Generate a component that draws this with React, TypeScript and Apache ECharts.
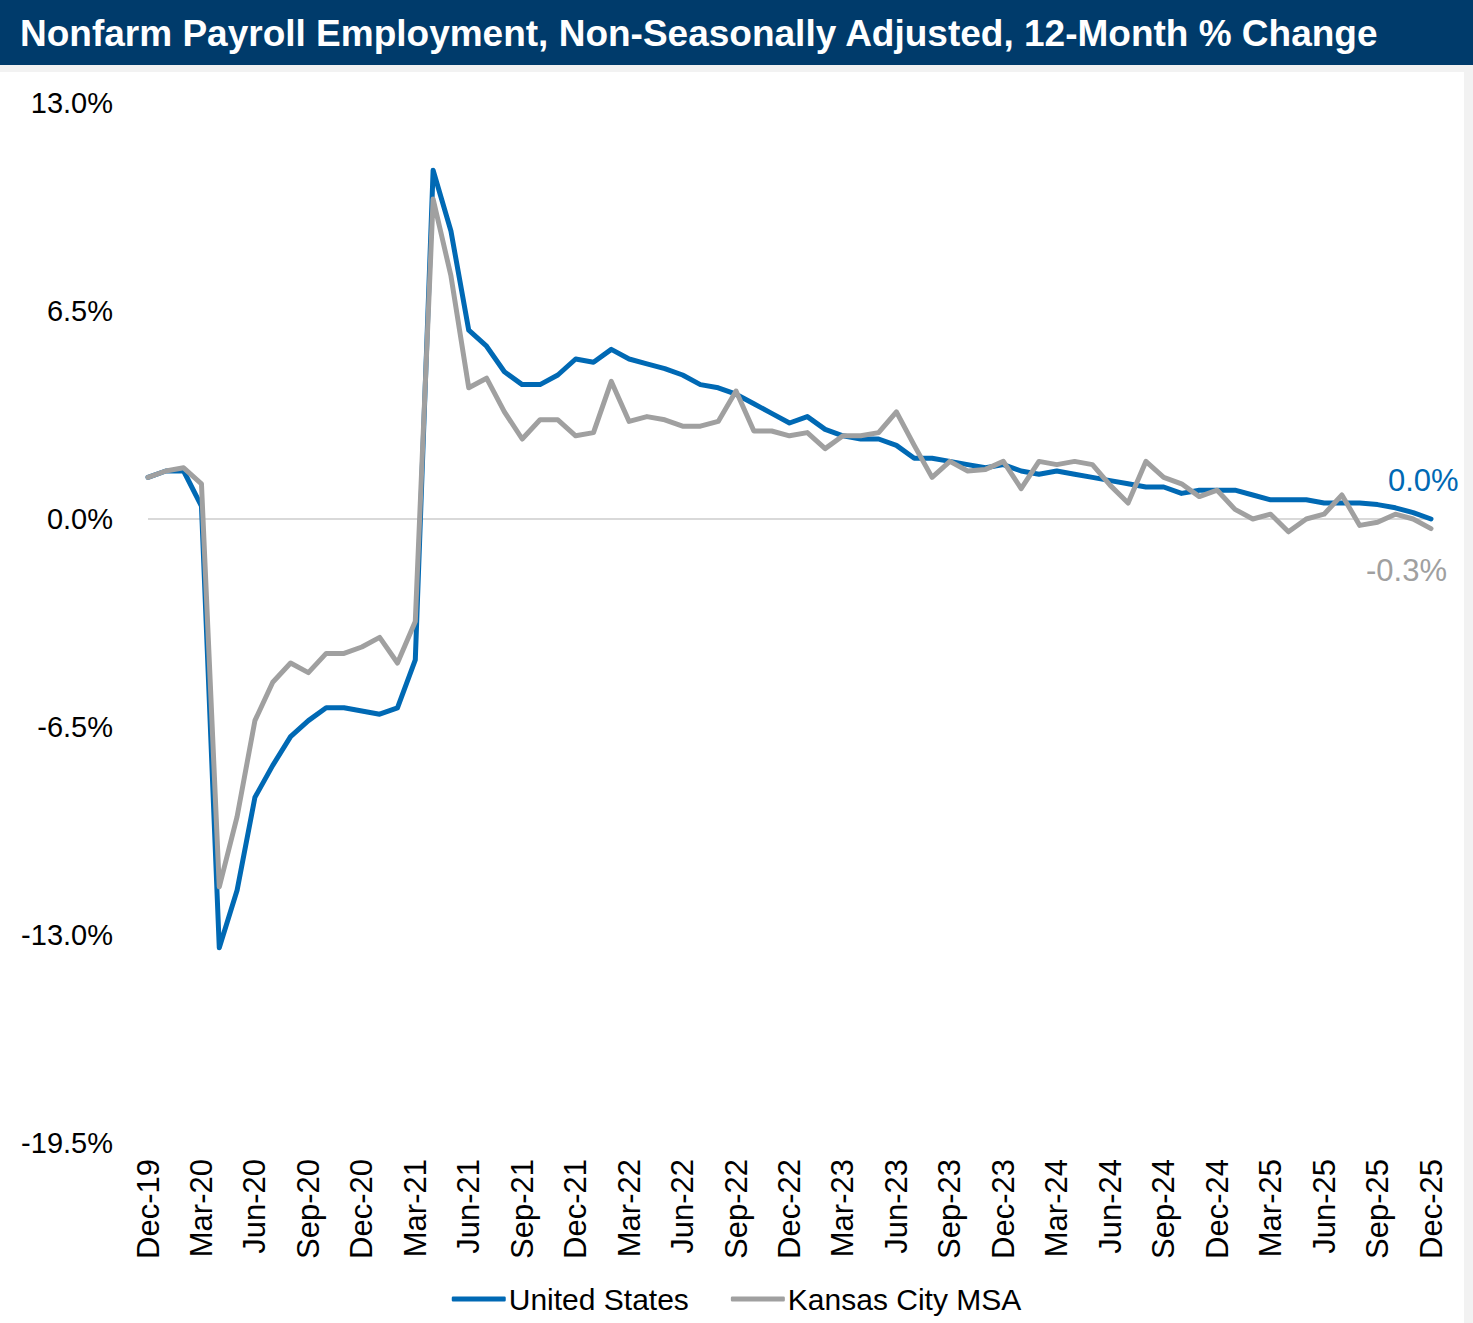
import React, { useEffect, useRef } from "react";
import * as echarts from "echarts";

const months = ["Jan", "Feb", "Mar", "Apr", "May", "Jun", "Jul", "Aug", "Sep", "Oct", "Nov", "Dec"];
const categories: string[] = ["Dec-19"];
for (let y = 20; y <= 25; y++) {
  for (const m of months) categories.push(`${m}-${y}`);
}

const usValues = [
  1.3, 1.5, 1.5, 0.4, -13.4, -11.6, -8.7, -7.7, -6.8, -6.3, -5.9, -5.9, -6.0,
  -6.1, -5.9, -4.4, 10.9, 9.0, 5.9, 5.4, 4.6, 4.2, 4.2, 4.5, 5.0,
  4.9, 5.3, 5.0, 4.85, 4.7, 4.5, 4.2, 4.1, 3.9, 3.6, 3.3, 3.0,
  3.2, 2.8, 2.6, 2.5, 2.5, 2.3, 1.9, 1.9, 1.8, 1.7, 1.6, 1.7,
  1.5, 1.4, 1.5, 1.4, 1.3, 1.2, 1.1, 1.0, 1.0, 0.8, 0.9, 0.9,
  0.9, 0.75, 0.6, 0.6, 0.6, 0.5, 0.5, 0.5, 0.45, 0.35, 0.2, 0.0,
];

const kcValues = [
  1.3, 1.5, 1.6, 1.1, -11.5, -9.3, -6.3, -5.1, -4.5, -4.8, -4.2, -4.2, -4.0,
  -3.7, -4.5, -3.2, 10.0, 7.6, 4.1, 4.4, 3.35, 2.5, 3.1, 3.1, 2.6,
  2.7, 4.3, 3.05, 3.2, 3.1, 2.9, 2.9, 3.05, 4.0, 2.75, 2.75, 2.6,
  2.7, 2.2, 2.6, 2.6, 2.7, 3.35, 2.3, 1.3, 1.8, 1.5, 1.55, 1.8,
  0.95, 1.8, 1.7, 1.8, 1.7, 1.05, 0.5, 1.8, 1.3, 1.1, 0.7, 0.9,
  0.3, 0.0, 0.15, -0.4, 0.0, 0.15, 0.75, -0.2, -0.1, 0.15, 0.0, -0.3,
];

const yMin = -19.5;
const yMax = 13.0;
const yStep = 6.5;

const titleText = "Nonfarm Payroll Employment, Non-Seasonally Adjusted, 12-Month % Change";
const seriesNames = ["United States", "Kansas City MSA"];

const BLUE = "#0069B4";
const GRAY = "#A0A0A0";
const FONT = "'Liberation Sans', Arial, sans-serif";

export default function App() {
  const ref = useRef<HTMLDivElement>(null);
  useEffect(() => {
    if (!ref.current) return;
    const chart = echarts.init(ref.current, null, { renderer: "svg" });
    chart.setOption({
      animation: false,
      backgroundColor: "#ffffff",
      textStyle: { fontFamily: FONT },
      graphic: [
        { type: "rect", left: 0, top: 0, shape: { width: 1473, height: 65 }, style: { fill: "#003B6B" } },
        { type: "rect", left: 0, top: 65, shape: { width: 1473, height: 7 }, style: { fill: "#F2F2F2" } },
        { type: "rect", left: 1464, top: 65, shape: { width: 9, height: 1258 }, style: { fill: "#F2F2F2" } },
        {
          type: "text",
          left: 20,
          top: 15,
          style: { text: titleText, fill: "#ffffff", font: `bold 37px ${FONT}` },
        },
      ],
      grid: { left: 148, right: 42, top: 103, bottom: 180, containLabel: false },
      legend: {
        bottom: 4,
        left: "center",
        icon: "roundRect",
        itemWidth: 54,
        itemHeight: 5,
        itemGap: 42,
        textStyle: { fontSize: 30, color: "#000", fontFamily: FONT, padding: [0, 0, 0, -2] },
        data: seriesNames,
      },
      xAxis: {
        type: "category",
        data: categories,
        boundaryGap: false,
        axisLine: { show: false },
        axisTick: { show: false },
        axisLabel: {
          interval: 2,
          rotate: 90,
          fontSize: 31,
          color: "#000",
          margin: 16,
          fontFamily: FONT,
        },
        splitLine: { show: false },
      },
      yAxis: {
        type: "value",
        min: yMin,
        max: yMax,
        interval: yStep,
        axisLine: { show: false },
        axisTick: { show: false },
        splitLine: { show: false },
        axisLabel: {
          fontSize: 29,
          color: "#000",
          margin: 35,
          fontFamily: FONT,
          formatter: (v: number) => `${v.toFixed(1)}%`,
        },
      },
      series: [
        {
          name: seriesNames[0],
          type: "line",
          data: usValues,
          showSymbol: false,
          symbol: "none",
          z: 3,
          lineStyle: { color: BLUE, width: 5, join: "round", cap: "round" },
          itemStyle: { color: BLUE },
          endLabel: {
            show: true,
            distance: 0,
            offset: [-43, -39],
            color: BLUE,
            fontSize: 31,
            fontFamily: FONT,
            formatter: (p: any) => `${Number(p.value).toFixed(1)}%`,
          },
          markLine: {
            silent: true,
            symbol: "none",
            label: { show: false },
            lineStyle: { color: "#D9D9D9", width: 2, type: "solid" },
            data: [{ yAxis: 0 }],
            z: 1,
          },
        },
        {
          name: seriesNames[1],
          type: "line",
          data: kcValues,
          showSymbol: false,
          symbol: "none",
          z: 4,
          lineStyle: { color: GRAY, width: 5, join: "round", cap: "round" },
          itemStyle: { color: GRAY },
          endLabel: {
            show: true,
            distance: 0,
            offset: [-65, 42],
            color: GRAY,
            fontSize: 31,
            fontFamily: FONT,
            formatter: (p: any) => `${Number(p.value).toFixed(1)}%`,
          },
        },
      ],
    });
    return () => chart.dispose();
  }, []);
  return (
    <div
      ref={ref}
      style={{ position: "fixed", left: 0, top: 0, width: 1473, height: 1323 }}
    />
  );
}
